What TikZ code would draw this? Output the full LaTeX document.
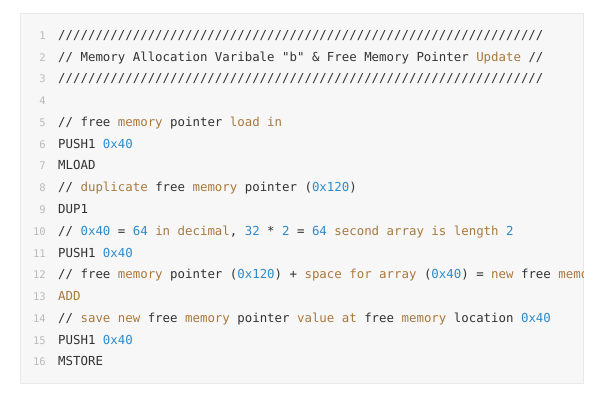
\documentclass[tikz,border=0pt]{standalone}
\usepackage{fontspec}
\setmonofont{DejaVu Sans Mono}
\definecolor{codebg}{HTML}{F7F7F7}
\definecolor{codeframe}{HTML}{E9E9E9}
\definecolor{codetext}{HTML}{333333}
\definecolor{codekw}{HTML}{A9783D}
\definecolor{codenum}{HTML}{2E8BCB}
\definecolor{codegutter}{HTML}{BBBBBB}
\newcommand{\kw}[1]{\textcolor{codekw}{#1}}
\newcommand{\nm}[1]{\textcolor{codenum}{#1}}
\begin{document}
\begin{tikzpicture}[x=1pt,y=-1pt,
    codeln/.style={anchor=base west,inner sep=0pt,text=codetext,font=\ttfamily\fontsize{12.4}{14}\selectfont},
    lineno/.style={anchor=base east,inner sep=0pt,text=codegutter,font=\ttfamily\fontsize{10.5}{12}\selectfont}]
    \useasboundingbox (0,0) rectangle (600,409);
    \draw[codeframe,fill=codebg] (20.5,13.5) rectangle (583.5,383.5);
    % gutter
    \foreach \i in {1,...,16}
        \node[lineno] (n\i) at (46,{39.5+21.75*(\i-1)}) {\i};
    % listing
    \begin{scope}
        \clip (21,14) rectangle (583,383);
        \node[codeln] (l1) at (58,39.5) {/////////////////////////////////////////////////////////////////};
        \node[codeln] (l2) at (58,61.25) {// Memory Allocation Varibale "b" \& Free Memory Pointer \kw{Update} //};
        \node[codeln] (l3) at (58,83) {/////////////////////////////////////////////////////////////////};
        \node[codeln] (l5) at (58,126.5) {// free \kw{memory} pointer \kw{load} \kw{in}};
        \node[codeln] (l6) at (58,148.25) {PUSH1 \nm{0x40}};
        \node[codeln] (l7) at (58,170) {MLOAD};
        \node[codeln] (l8) at (58,191.75) {// \kw{duplicate} free \kw{memory} pointer (\nm{0x120})};
        \node[codeln] (l9) at (58,213.5) {DUP1};
        \node[codeln] (l10) at (58,235.25) {// \nm{0x40} = \nm{64} \kw{in} \kw{decimal}, \nm{32} * \nm{2} = \nm{64} \kw{second} \kw{array} \kw{is} \kw{length} \nm{2}};
        \node[codeln] (l11) at (58,257) {PUSH1 \nm{0x40}};
        \node[codeln] (l12) at (58,278.75) {// free \kw{memory} pointer (\nm{0x120}) + \kw{space} \kw{for} \kw{array} (\nm{0x40}) = \kw{new} free \kw{memory} pointer};
        \node[codeln] (l13) at (58,300.5) {\kw{ADD}};
        \node[codeln] (l14) at (58,322.25) {// \kw{save} \kw{new} free \kw{memory} pointer \kw{value} \kw{at} free \kw{memory} location \nm{0x40}};
        \node[codeln] (l15) at (58,344) {PUSH1 \nm{0x40}};
        \node[codeln] (l16) at (58,365.75) {MSTORE};
    \end{scope}
\end{tikzpicture}
\end{document}
